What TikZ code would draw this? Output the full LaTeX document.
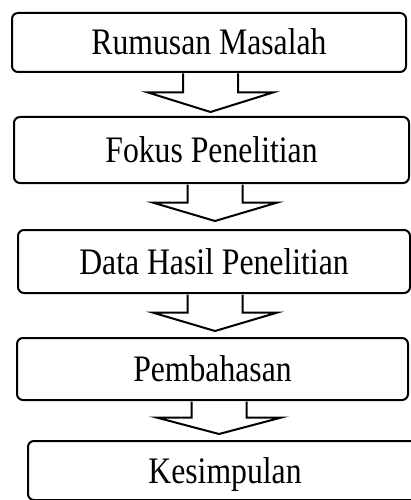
\documentclass[tikz,border=0pt]{standalone}
\usepackage{fontspec}
\usepackage{graphicx}
\setmainfont{Liberation Serif}
\usetikzlibrary{calc}
\newcommand\tallText[1]{\scalebox{1}[1.18]{#1}}
\tikzset{
  flowbox/.style={draw, line width=2pt, rounded corners=6pt, fill=white,
    inner sep=0pt, text height=25pt, text depth=0pt,
    font=\fontsize{31.7pt}{38pt}\selectfont},
  bigarrow/.style={draw, line width=2pt, fill=white, line join=miter},
}
\newcommand\myflowarrow[2]{%
  \draw[bigarrow] let \p1=(#1), \p2=(#2) in
    (\x1-27.5pt,\y1-0.5pt) -- (\x1-27.5pt,{(\y1+\y2)/2}) -- (\x1-62.5pt,{(\y1+\y2)/2})
    -- (\x1,\y2) -- (\x1+62.5pt,{(\y1+\y2)/2}) -- (\x1+27.5pt,{(\y1+\y2)/2})
    -- (\x1+27.5pt,\y1-0.5pt);%
}
\begin{document}
\begin{tikzpicture}[x=1pt,y=-1pt]
\useasboundingbox (0,0) rectangle (411,500);
\clip (0,0) rectangle (411,500);
\node[flowbox, minimum width=394pt, minimum height=59pt] (b1) at (209,42.5) {\tallText{Rumusan Masalah}};
\node[flowbox, minimum width=395pt, minimum height=66pt] (b2) at (211.5,150) {\tallText{Fokus Penelitian}};
\node[flowbox, minimum width=392pt, minimum height=63pt] (b3) at (214,261.5) {\tallText{Data Hasil Penelitian}};
\node[flowbox, minimum width=391pt, minimum height=62pt] (b4) at (212.5,369) {\tallText{Pembahasan}};
\node[flowbox, minimum width=394pt, minimum height=59pt] (b5) at (225,470.5) {\tallText{Kesimpulan}};
\coordinate (x1) at (210.5,0);
\coordinate (x2) at (215,0);
\coordinate (x3) at (215,0);
\coordinate (x4) at (219,0);
\coordinate (t1) at (b1.south -| x1);
\coordinate (p1) at ($(b2.north -| x1)+(0,-4)$);
\coordinate (t2) at (b2.south -| x2);
\coordinate (p2) at ($(b3.north -| x2)+(0,-8)$);
\coordinate (t3) at (b3.south -| x3);
\coordinate (p3) at ($(b4.north -| x3)+(0,-6)$);
\coordinate (t4) at (b4.south -| x4);
\coordinate (p4) at ($(b5.north -| x4)+(0,-6)$);
\myflowarrow{t1}{p1}
\myflowarrow{t2}{p2}
\myflowarrow{t3}{p3}
\myflowarrow{t4}{p4}
\end{tikzpicture}
\end{document}
